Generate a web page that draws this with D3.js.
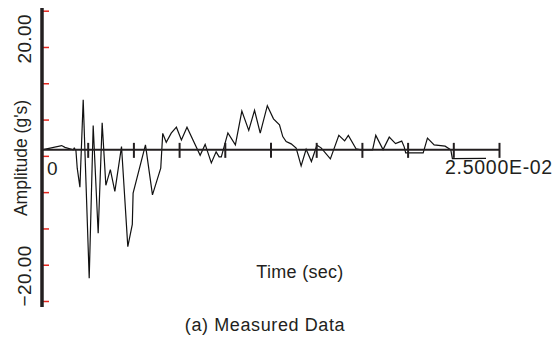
<!DOCTYPE html>
<html>
<head>
<meta charset="utf-8">
<script src="https://cdn.jsdelivr.net/npm/d3@7"></script>
<style>
  html, body { margin: 0; padding: 0; background: #fff; }
  svg { display: block; }
  text { font-family: "Liberation Sans", Arial, sans-serif; fill: #231f20; }
</style>
</head>
<body>
<svg id="chart" width="557" height="347"></svg>
<script>
// ---- data ----
const timeSec = [0, 0.001075, 0.001255, 0.001709, 0.001763, 0.001856, 0.001927, 0.002074, 0.002254, 0.002582,
  0.002800, 0.003073, 0.003291, 0.003493, 0.003739, 0.003985, 0.004350, 0.004694, 0.004940, 0.004984,
  0.005660, 0.006043, 0.006496, 0.006605, 0.006796, 0.007069, 0.007353, 0.007626, 0.007931, 0.008652,
  0.008925, 0.009263, 0.009525, 0.009689, 0.009809, 0.010169, 0.010579, 0.010933, 0.011310, 0.011627,
  0.011938, 0.012326, 0.012664, 0.012991, 0.013172, 0.013357, 0.013630, 0.013903, 0.014176, 0.014449,
  0.014738, 0.015038, 0.015268, 0.015775, 0.016239, 0.016556, 0.016758, 0.017178, 0.017451, 0.018084,
  0.018259, 0.018657, 0.018996, 0.019340, 0.019678, 0.019814, 0.019896, 0.020851, 0.021086, 0.021452,
  0.022052, 0.022363, 0.022451, 0.024290];
const amplitude = [0, 0.75, 0.44, 0, 0.30, -0.09, -3.21, -6.54, 8.77, -22.50,
  4.26, -14.61, 4.73, -6.22, -3.47, -7.28, 0.58, -16.96, -13.06, -7.59,
  0.88, -7.89, -3.21, 2.89, 1.32, 2.93, 3.98, 1.75, 3.98, -0.96,
  0.96, -2.28, -0.35, -1.23, -1.23, 2.98, 0.88, 6.79, 3.42, 6.93,
  2.93, 7.75, 5.44, 4.38, 2.33, 1.46, 1.05, 0.30, -2.81, 0.09,
  -2.05, 0.82, 0.35, -1.58, 2.54, 1.58, 2.54, 0.18, 0, 0,
  2.54, 0.05, 2.23, 1.10, 1.54, 0.53, -0.53, -0.53, 2.05, 0.88,
  0.65, 0, -1.54, -1.49];
const xTicks = [0, 0.0025, 0.005, 0.0075, 0.01, 0.0125, 0.015, 0.0175, 0.02, 0.0225, 0.025];
const xTickLabels = ["0", "2.5000E-02"];
const yTicks = [-26.5, -20.14, -13.78, -7.41, -1.05, 5.31, 11.68, 18.04, 24.4];
const yTickLabels = [20, -20];
const yTitle = "Amplitude (g's)";
const xTitle = "Time (sec)";
const caption = "(a) Measured Data";

// ---- layout ----
const svg = d3.select("#chart");
const x = d3.scaleLinear().domain([0, 0.025]).range([42, 499]);
const y = d3.scaleLinear().domain([-26.5, 24.4]).range([301, 10.7]);
const ink = "#231f20";

// data line
const line = d3.line().x((d, i) => x(timeSec[i])).y(d => y(d));
svg.append("path")
  .datum(amplitude)
  .attr("d", line)
  .attr("fill", "none")
  .attr("stroke", "#111")
  .attr("stroke-width", 1.2)
  .attr("stroke-linejoin", "miter");

// x axis (baseline at y=0)
const y0 = y(0);
const xAxis = d3.axisBottom(x).tickValues(xTicks).tickSize(0).tickFormat("");
const gx = svg.append("g").attr("transform", `translate(0,${y0})`).call(xAxis);
gx.select(".domain").attr("stroke", ink).attr("stroke-width", 2).attr("d", `M${x(0)},0H${x(0.025)}`);
gx.selectAll(".tick line").attr("stroke", ink).attr("stroke-width", 2).attr("y1", -7).attr("y2", 8);
gx.selectAll(".tick").filter(d => d === 0).remove();

// x tick labels
svg.append("text")
  .attr("x", x(0) + 5).attr("y", y0 + 25)
  .attr("font-size", 19)
  .text(xTickLabels[0]);
svg.append("text")
  .attr("x", x(0.025)).attr("y", y0 + 24)
  .attr("text-anchor", "middle")
  .attr("font-size", 19.5).attr("letter-spacing", 0.7)
  .text(xTickLabels[1]);

// y axis (red ticks)
const yAxis = d3.axisRight(y).tickValues(yTicks).tickSize(7).tickFormat("");
const gy = svg.append("g").attr("transform", `translate(${x(0)},0)`).call(yAxis);
gy.select(".domain").remove();
gy.selectAll(".tick line").attr("stroke", "#e3261e").attr("stroke-width", 1.5);
svg.append("line")
  .attr("x1", x(0)).attr("x2", x(0))
  .attr("y1", 8).attr("y2", 307)
  .attr("stroke", ink).attr("stroke-width", 3.5);

// y tick labels (rotated)
svg.selectAll("text.ylab").data(yTickLabels).enter().append("text")
  .attr("class", "ylab")
  .attr("transform", d => `translate(31,${y(d) + (d > 0 ? 3 : 12)}) rotate(-90)`)
  .attr("text-anchor", "middle")
  .attr("font-size", 19).attr("letter-spacing", 0.4)
  .text(d => d3.format(".2f")(d));

// y title
svg.append("text")
  .attr("transform", `translate(27,158) rotate(-90)`)
  .attr("text-anchor", "middle")
  .attr("font-size", 17.5)
  .text(yTitle);

// x title
svg.append("text")
  .attr("x", 300).attr("y", 278)
  .attr("text-anchor", "middle")
  .attr("font-size", 18).attr("letter-spacing", 0.3)
  .text(xTitle);

// caption
svg.append("text")
  .attr("x", 265).attr("y", 331)
  .attr("text-anchor", "middle")
  .attr("font-size", 18).attr("letter-spacing", 0.6)
  .text(caption);
</script>
</body>
</html>
